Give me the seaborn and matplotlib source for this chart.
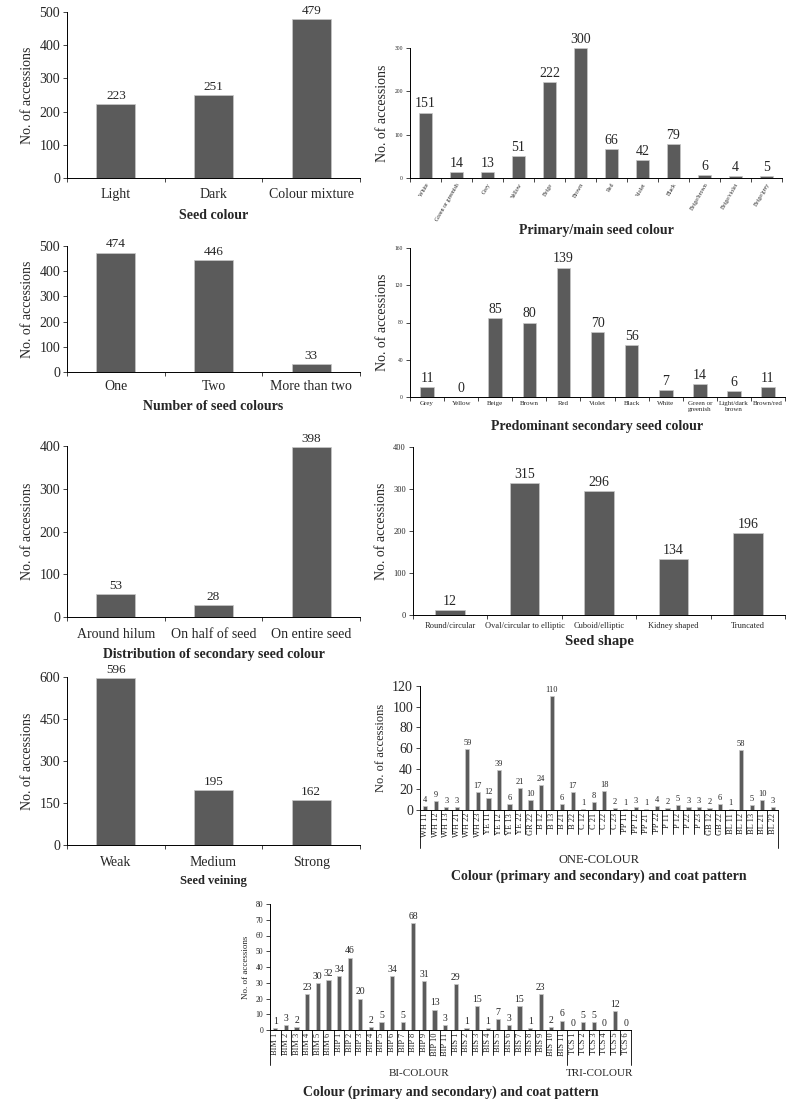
import numpy as np
import pandas as pd
import matplotlib
matplotlib.use('Agg')
import matplotlib.pyplot as plt
import matplotlib.transforms as mtransforms
import seaborn as sns

# ---- data ----
seed_colour = ['Light', 'Dark', 'Colour mixture']
seed_colour_n = [223, 251, 479]

primary_colour = ['White', 'Green or greenish', 'Grey', 'Yellow', 'Beige', 'Brown', 'Red',
                  'Violet', 'Black', 'Beige/brown', 'Beige/violet', 'Beige/grey']
primary_colour_n = [151, 14, 13, 51, 222, 300, 66, 42, 79, 6, 4, 5]

n_colours = ['One', 'Two', 'More than two']
n_colours_n = [474, 446, 33]

secondary_colour = ['Grey', 'Yellow', 'Beige', 'Brown', 'Red', 'Violet', 'Black', 'White',
                    'Green or\ngreenish', 'Light/dark\nbrown', 'Brown/red']
secondary_colour_n = [11, 0, 85, 80, 139, 70, 56, 7, 14, 6, 11]

distribution = ['Around hilum', 'On half of seed', 'On entire seed']
distribution_n = [53, 28, 398]

seed_shape = ['Round/circular', 'Oval/circular to elliptic', 'Cuboid/elliptic',
              'Kidney shaped', 'Truncated']
seed_shape_n = [12, 315, 296, 134, 196]

veining = ['Weak', 'Medium', 'Strong']
veining_n = [596, 195, 162]

one_colour = ['WH 11', 'WH 12', 'WH 13', 'WH 21', 'WH 22', 'WH 23', 'YE 11', 'YE 12', 'YE 13',
              'YE 22', 'GR 22', 'B 12', 'B 13', 'B 21', 'B 22', 'C 12', 'C 21', 'C 22', 'C 23',
              'PP 11', 'PP 12', 'PP 21', 'PP 22', 'P 11', 'P 12', 'P 22', 'P 23', 'GB 12',
              'GB 22', 'BL 11', 'BL 12', 'BL 13', 'BL 21', 'BL 22']
one_colour_n = [4, 9, 3, 3, 59, 17, 12, 39, 6, 21, 10, 24, 110, 6, 17, 1, 8, 18, 2, 1, 3, 1,
                4, 2, 5, 3, 3, 2, 6, 1, 58, 5, 10, 3]

bi_colour = ['BIM 1', 'BIM 2', 'BIM 3', 'BIM 4', 'BIM 5', 'BIM 6',
             'BIP 1', 'BIP 2', 'BIP 3', 'BIP 4', 'BIP 5', 'BIP 6', 'BIP 7', 'BIP 8', 'BIP 9',
             'BIP 10', 'BIP 11',
             'BIS 1', 'BIS 2', 'BIS 3', 'BIS 4', 'BIS 5', 'BIS 6', 'BIS 7', 'BIS 8', 'BIS 9',
             'BIS 10', 'BIS 11',
             'TCS 1', 'TCS 2', 'TCS 3', 'TCS 4', 'TCS 5', 'TCS 6']
bi_colour_n = [1, 3, 2, 23, 30, 32, 34, 46, 20, 2, 5, 34, 5, 68, 31, 13, 3,
               29, 1, 15, 1, 7, 3, 15, 1, 23, 2, 6, 0, 5, 5, 0, 12, 0]
bi_groups = ['BI-COLOUR', 'TRI-COLOUR']
bi_group_sizes = [28, 6]

W, H = 794, 1109
BAR = '#5b5b5b'

sns.set_theme(style='ticks')
plt.rcParams['font.family'] = ['Liberation Serif', 'DejaVu Serif']
plt.rcParams['axes.linewidth'] = 0.7


def add_ax(fig, left, top, right, bottom):
    return fig.add_axes([left / W, 1 - bottom / H, (right - left) / W, (bottom - top) / H])


def bar_panel(ax, cats, vals, ymax, yticks, xlabel, tick_fs, ytick_fs, val_fs,
              ylab_fs=10, xlab_fs=10, rot=0, box=False, xpad=3, lpad=4):
    df = pd.DataFrame({'cat': cats, 'n': vals})
    sns.barplot(data=df, x='cat', y='n', ax=ax, color=BAR, width=0.4, saturation=1,
                edgecolor='#c8c8c8', linewidth=0.5)
    ax.bar_label(ax.containers[0], fontsize=val_fs, padding=1.5)
    ax.set_ylim(0, ymax)
    ax.set_yticks(yticks)
    ax.set_xlim(-0.5, len(cats) - 0.5)
    sns.despine(ax=ax)
    for s in ['left', 'bottom']:
        ax.spines[s].set_color('black')
        ax.spines[s].set_linewidth(0.7)
    ax.set_ylabel('No. of accessions', fontsize=ylab_fs)
    ax.tick_params(axis='y', labelsize=ytick_fs, length=3, width=0.6, pad=2)
    ax.set_xlabel(xlabel, fontsize=xlab_fs, fontweight='bold', labelpad=lpad)
    if not box:
        ax.set_xticks(np.arange(len(cats) + 1) - 0.5, minor=True)
        ax.tick_params(axis='x', which='minor', length=3, width=0.6)
        ax.tick_params(axis='x', which='major', length=0, labelsize=tick_fs, pad=xpad)
        if rot:
            plt.setp(ax.get_xticklabels(), rotation=rot, ha='right', rotation_mode='anchor')
    else:
        ax.tick_params(axis='x', which='major', length=0, labelsize=tick_fs, pad=2)
        plt.setp(ax.get_xticklabels(), rotation=90, va='top', ha='center')
    return ax


def label_box(ax, n, inner, outer, edges):
    tr = mtransforms.blended_transform_factory(ax.transData, ax.transAxes)
    for b in np.arange(n + 1) - 0.5:
        depth = outer if b in edges else inner
        ax.plot([b, b], [0, depth], color='black', lw=0.6, transform=tr, clip_on=False)


fig = plt.figure(figsize=(W / 100, H / 100), dpi=100)

ax1 = add_ax(fig, 67, 12, 360, 178)
bar_panel(ax1, seed_colour, seed_colour_n, 500, range(0, 501, 100), 'Seed colour',
          10, 10, 9.5, xpad=7, lpad=6)

ax2 = add_ax(fig, 410, 48, 782, 178)
bar_panel(ax2, primary_colour, primary_colour_n, 300, range(0, 301, 100),
          'Primary/main seed colour', 4.2, 4, 10, rot=60, lpad=2)

ax3 = add_ax(fig, 67, 246, 360, 372)
bar_panel(ax3, n_colours, n_colours_n, 500, range(0, 501, 100), 'Number of seed colours',
          10, 10, 9.5, xpad=6, lpad=5)

ax4 = add_ax(fig, 410, 248, 785, 397)
bar_panel(ax4, secondary_colour, secondary_colour_n, 160, range(0, 161, 40),
          'Predominant secondary seed colour', 5, 4, 10, lpad=6)

ax5 = add_ax(fig, 67, 446, 360, 617)
bar_panel(ax5, distribution, distribution_n, 400, range(0, 401, 100),
          'Distribution of secondary seed colour', 10, 10, 9.5, xpad=8, lpad=5)

ax6 = add_ax(fig, 413, 447, 785, 615)
bar_panel(ax6, seed_shape, seed_shape_n, 400, range(0, 401, 100), 'Seed shape',
          6, 6, 10, xlab_fs=10.5, xpad=5)

ax7 = add_ax(fig, 67, 677, 360, 845)
bar_panel(ax7, veining, veining_n, 600, range(0, 601, 150), 'Seed veining',
          10, 10, 9.5, xlab_fs=9, xpad=8, lpad=4)

ax8 = add_ax(fig, 420, 686, 778, 810)
bar_panel(ax8, one_colour, one_colour_n, 120, range(0, 121, 20),
          'Colour (primary and secondary) and coat pattern', 6, 10, 6, ylab_fs=9,
          xlab_fs=10, box=True)
label_box(ax8, len(one_colour), -0.19, -0.31, [-0.5, len(one_colour) - 0.5])
ax8.text(0.5, -0.4, 'ONE-COLOUR', transform=ax8.transAxes, ha='center', va='center',
         fontsize=9)
ax8.xaxis.set_label_coords(0.5, -0.48)
ax8.xaxis.label.set_va('top')

ax9 = add_ax(fig, 270, 904, 631, 1030)
bar_panel(ax9, bi_colour, bi_colour_n, 80, range(0, 81, 10),
          'Colour (primary and secondary) and coat pattern', 6, 5.5, 7, ylab_fs=6.5,
          xlab_fs=10, box=True)
group_edges = list(np.cumsum([0] + bi_group_sizes) - 0.5)
label_box(ax9, len(bi_colour), -0.2, -0.28, group_edges)
tr9 = mtransforms.blended_transform_factory(ax9.transData, ax9.transAxes)
for g, lo, hi in zip(bi_groups, group_edges[:-1], group_edges[1:]):
    ax9.text((lo + hi) / 2, -0.345, g, transform=tr9, ha='center', va='center', fontsize=8)
ax9.xaxis.set_label_coords(0.5, -0.44)
ax9.xaxis.label.set_va('top')

fig.savefig('out.png', dpi=100)
